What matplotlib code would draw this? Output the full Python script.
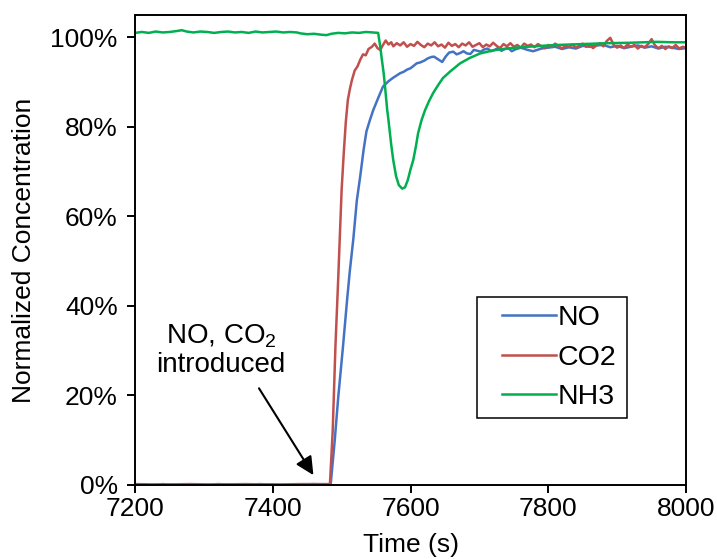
import numpy as np
import matplotlib
matplotlib.use("Agg")
import matplotlib.pyplot as plt
from matplotlib.ticker import PercentFormatter
from matplotlib.patches import Rectangle

plt.rcParams["font.family"] = ["Liberation Sans", "DejaVu Sans"]
plt.rcParams["mathtext.fontset"] = "custom"
plt.rcParams["mathtext.rm"] = "Liberation Sans"
plt.rcParams["mathtext.it"] = "Liberation Sans"

# NO signal (%)
no_t = [7200, 7220, 7240, 7260, 7280, 7300, 7320, 7340, 7360, 7380, 7400, 7420, 7440, 7460, 7475, 7484,
        7490, 7495, 7502, 7508, 7512, 7517, 7522, 7527, 7532, 7536, 7541, 7546, 7554, 7560, 7568, 7575,
        7580, 7585, 7590, 7595, 7600, 7605, 7609, 7614, 7620, 7625, 7630, 7634, 7640, 7646, 7651, 7656,
        7662, 7667, 7672, 7677, 7682, 7687, 7692, 7697, 7702, 7707, 7712, 7717, 7722, 7727, 7732, 7737,
        7742, 7747, 7752, 7760, 7770, 7778, 7790, 7800, 7810, 7820, 7830, 7840, 7850, 7860, 7870, 7880,
        7890, 7900, 7910, 7920, 7930, 7940, 7950, 7960, 7970, 7980, 7990, 8000]
no_v = [0.1, -0.1, 0.2, 0.0, 0.1, -0.1, 0.2, 0.1, 0.0, 0.2, 0.1, -0.1, 0.1, 0.2, 0.1, 0.0,
        10.0, 19.5, 31.0, 41.5, 48.0, 55.0, 63.5, 69.0, 75.0, 79.0, 81.5, 83.8, 86.8, 89.0, 90.2, 91.0,
        91.5, 92.0, 92.3, 92.8, 93.1, 93.7, 94.2, 94.4, 94.8, 95.3, 95.6, 95.7, 95.1, 94.5, 95.7, 96.6,
        96.8, 96.2, 96.5, 96.9, 96.4, 96.3, 97.2, 97.0, 96.8, 97.3, 97.5, 96.9, 97.2, 97.6, 97.0, 97.4,
        97.6, 96.9, 97.3, 97.7, 97.2, 96.9, 97.5, 97.7, 97.9, 97.4, 97.8, 97.5, 98.1, 97.9, 98.2, 98.3,
        97.8, 98.1, 97.6, 97.9, 98.2, 97.7, 98.0, 97.5, 97.9, 97.7, 97.4, 97.6]

# CO2 signal (%)
co2_t = [7200, 7240, 7280, 7320, 7360, 7400, 7440, 7483, 7487, 7491, 7495, 7498, 7500, 7503, 7506, 7509,
         7512, 7515, 7519, 7523, 7527, 7531, 7535, 7539, 7544, 7548, 7552, 7556, 7560, 7564, 7568, 7572,
         7575, 7580, 7585, 7590, 7595, 7600, 7605, 7610, 7615, 7620, 7625, 7630, 7635, 7640, 7645, 7650,
         7655, 7660, 7665, 7670, 7675, 7680, 7685, 7690, 7695, 7700, 7705, 7710, 7715, 7720, 7725, 7730,
         7735, 7740, 7745, 7750, 7755, 7760, 7765, 7770, 7775, 7780, 7785, 7790, 7795, 7800, 7805, 7810,
         7815, 7820, 7825, 7830, 7835, 7840, 7845, 7850, 7855, 7860, 7865, 7870, 7875, 7880, 7885, 7890,
         7895, 7900, 7905, 7910, 7915, 7920, 7925, 7930, 7935, 7940, 7945, 7950, 7955, 7960, 7965, 7970,
         7975, 7980, 7985, 7990, 7995, 8000]
co2_v = [0.2, 0.1, 0.2, 0.1, 0.2, 0.1, 0.2, 0.2, 12.0, 31.0, 46.0, 58.0, 66.0, 74.0, 81.0, 86.0,
         88.5, 90.5, 92.6, 93.5, 95.0, 96.2, 96.0, 97.4, 97.9, 98.6, 97.6, 97.2, 98.3, 99.3, 98.4, 98.9,
         98.0, 98.7, 98.2, 98.9, 97.9, 98.5, 98.1, 99.0, 98.3, 97.8, 98.6, 98.2, 98.9, 98.0, 98.4, 97.7,
         98.8, 98.1, 98.5, 97.8, 98.6, 98.2, 98.9, 97.9, 98.3, 98.7, 97.8, 98.4, 98.0, 98.8, 98.1, 97.6,
         98.5, 98.0, 98.7, 97.9, 98.3, 97.7, 98.6, 98.1, 98.4, 97.8, 98.5, 98.0, 97.6, 98.3, 97.9, 98.6,
         98.0, 97.5, 98.2, 97.8, 98.4, 97.7, 98.1, 98.6, 97.9, 98.3, 97.6, 98.2, 98.7, 98.0, 99.2, 99.9,
         98.3, 97.7, 98.2, 97.6, 98.4, 97.9, 98.3, 97.5, 98.1, 97.8, 98.5, 99.6, 98.2, 97.6, 98.1, 97.4,
         98.0, 97.6, 98.3, 97.5, 97.9, 97.7]

# NH3 signal (%)
nh3_t = [7200, 7210, 7220, 7230, 7240, 7250, 7260, 7268, 7275, 7285, 7295, 7305, 7315, 7325, 7335, 7345,
         7355, 7365, 7375, 7385, 7395, 7405, 7415, 7425, 7435, 7440, 7450, 7460, 7470, 7478, 7485, 7495,
         7505, 7515, 7525, 7535, 7545, 7553, 7556, 7558, 7561, 7563, 7566, 7568, 7572, 7575, 7579, 7583,
         7588, 7592, 7596, 7600, 7604, 7608, 7611, 7616, 7621, 7627, 7633, 7640, 7647, 7657, 7672, 7686,
         7701, 7720, 7740, 7760, 7790, 7812, 7850, 7885, 7920, 7958, 7980, 8000]
nh3_v = [101.0, 101.2, 101.0, 101.3, 101.1, 101.2, 101.4, 101.6, 101.3, 101.1, 101.3, 101.2, 101.0, 101.2, 101.3, 101.1,
         101.2, 101.0, 101.3, 101.1, 101.2, 101.3, 101.1, 101.2, 101.1, 100.9, 100.7, 100.8, 100.6, 100.5, 100.8, 101.0,
         100.9, 101.1, 101.0, 101.2, 101.1, 101.0, 98.0, 95.5, 92.0, 89.0, 84.0, 81.5, 76.0, 72.5, 69.0, 67.0,
         66.2, 66.5, 68.1, 70.5, 72.6, 75.8, 78.6, 81.5, 83.7, 85.8, 87.6, 89.3, 90.9, 92.3, 94.2, 95.4,
         96.4, 97.1, 97.5, 97.8, 98.1, 98.3, 98.5, 98.7, 98.8, 99.0, 98.9, 98.9]

fig = plt.figure(figsize=(7.17, 5.59), dpi=100)
ax = fig.add_axes([0.1883, 0.1324, 0.7685, 0.8408])

ax.plot(no_t, no_v, color="#4472C4", lw=1.8, label="NO")
ax.plot(co2_t, co2_v, color="#C0504D", lw=1.8, label="CO2")
ax.plot(nh3_t, nh3_v, color="#00B050", lw=1.8, label="NH3")

ax.set_xlim(7200, 8000)
ax.set_ylim(0, 105)
ax.set_xticks([7200, 7400, 7600, 7800, 8000])
ax.set_yticks([0, 20, 40, 60, 80, 100])
ax.yaxis.set_major_formatter(PercentFormatter(decimals=0))
ax.tick_params(direction="out", length=5.5, width=1.4, labelsize=19)
ax.tick_params(axis="y", pad=7)
ax.tick_params(axis="x", pad=3)
for s in ax.spines.values():
    s.set_linewidth(1.4)

ax.set_xlabel("Time (s)", fontsize=19, labelpad=9)
ax.set_ylabel("Normalized Concentration", fontsize=19, labelpad=10)

ax.annotate("", xy=(7459, 2.2), xytext=(7380, 21.6),
            arrowprops=dict(arrowstyle="-|>,head_length=0.55,head_width=0.27",
                            color="black", lw=1.5, shrinkA=0, shrinkB=0),
            fontsize=20)
ax.text(7325, 30.2, "NO, CO$_2$\nintroduced", fontsize=20, ha="center", va="center",
        linespacing=1.1)

# legend box drawn separately so the padding can match
ax.add_patch(Rectangle((0.621, 0.143), 0.272, 0.257, transform=ax.transAxes,
                       facecolor="white", edgecolor="black", lw=1.1, zorder=4))
leg = ax.legend(loc="upper left", bbox_to_anchor=(0.666, 0.383), fontsize=20.5,
                frameon=False, handlelength=1.9, handletextpad=0.06,
                labelspacing=0.48, borderpad=0, borderaxespad=0)
leg.set_zorder(5)

plt.savefig("out.png", dpi=100)
